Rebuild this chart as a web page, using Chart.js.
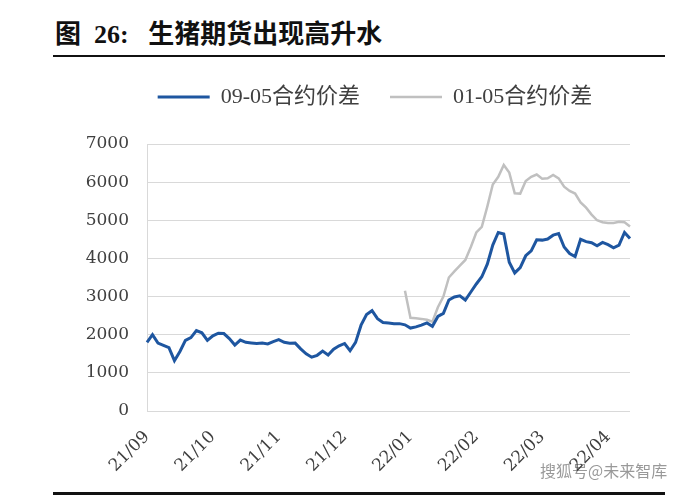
<!DOCTYPE html>
<html>
<head>
<meta charset="utf-8">
<script src="https://cdn.jsdelivr.net/npm/chart.js@4.4.1/dist/chart.umd.min.js"></script>
<style>
  html, body { margin: 0; padding: 0; background: #fff; }
  #wrap { position: relative; width: 679px; height: 500px; overflow: hidden; }
  #title { position: absolute; left: 55px; top: 22px; font: bold 26px/26px 'Liberation Serif', 'Noto Sans CJK SC', serif; color: #111; white-space: pre; }
  #rule-top { position: absolute; left: 53px; top: 55px; width: 612px; height: 2px; background: #111; }
  #rule-bottom { position: absolute; left: 53px; top: 492px; width: 612px; height: 3px; background: #111; }
  #mark { position: absolute; left: 540px; top: 458px; font: 16px 'Noto Sans CJK SC', sans-serif; color: rgba(70,70,70,0.55); white-space: nowrap; }
  canvas { position: absolute; left: 0; top: 0; }
</style>
</head>
<body>
<div id="wrap">
  <div id="title">图  26:   生猪期货出现高升水</div>
  <div id="rule-top"></div>
  <canvas id="spread-chart" width="679" height="500"></canvas>
  <div id="mark">搜狐号@未来智库</div>
  <div id="rule-bottom"></div>
</div>
<script>
'use strict';

// month tick labels, one every 12 points
const monthLabels = ['21/09', '21/10', '21/11', '21/12', '22/01', '22/02', '22/03', '22/04'];
const pointsPerMonth = 12;

// 09-05 contract spread
const spread0905 = [
  1800, 2000, 1780, 1720, 1660, 1320, 1560, 1850, 1925, 2110,
  2050, 1850, 1970, 2040, 2030, 1900, 1730, 1860, 1800, 1785,
  1770, 1780, 1760, 1820, 1870, 1800, 1775, 1780, 1630, 1500,
  1410, 1460, 1570, 1470, 1620, 1710, 1770, 1580, 1800, 2250,
  2530, 2630, 2420, 2320, 2305, 2290, 2290, 2260, 2175, 2205,
  2250, 2310, 2220, 2480, 2560, 2910, 2990, 3020, 2910, 3120,
  3330, 3520, 3850, 4350, 4680, 4640, 3900, 3620, 3760, 4070,
  4200, 4490, 4480, 4510, 4610, 4650, 4300, 4130, 4050, 4500,
  4440, 4410, 4330, 4420, 4360, 4280, 4350, 4680, 4520
];

// 01-05 contract spread (starts in January)
const spread0105 = [
  null, null, null, null, null, null, null, null, null, null,
  null, null, null, null, null, null, null, null, null, null,
  null, null, null, null, null, null, null, null, null, null,
  null, null, null, null, null, null, null, null, null, null,
  null, null, null, null, null, null, null, 3150, 2445, 2430,
  2415, 2390, 2340, 2720, 3000, 3500, 3660, 3810, 3960, 4300,
  4680, 4830, 5360, 5940, 6140, 6450, 6250, 5710, 5700, 6030,
  6140, 6200, 6090, 6100, 6190, 6100, 5880, 5770, 5700, 5470,
  5330, 5150, 5000, 4950, 4930, 4930, 4960, 4950, 4840
];

const textColor = '#404040';
const gridColor = '#d9d9d9';

// extra room under the legend, and legend centred over the plot rather than the canvas
const legendTweak = {
  id: 'legendTweak',
  beforeInit(chart) {
    const fit = chart.legend.fit;
    chart.legend.fit = function () {
      fit.call(this);
      this.height += 26;
    };
  },
  afterLayout(chart) {
    chart.legend.left += 120;
  }
};

function buildChart() {
  const ctx = document.getElementById('spread-chart');
  const labels = spread0905.map((_, i) => i);

  new Chart(ctx, {
    type: 'line',
    data: {
      labels,
      datasets: [
        { label: '09-05合约价差', data: spread0905, borderColor: '#1E56A0', backgroundColor: '#1E56A0', borderWidth: 3, pointRadius: 0, tension: 0 },
        { label: '01-05合约价差', data: spread0105, borderColor: '#C0C0C0', backgroundColor: '#C0C0C0', borderWidth: 2.5, pointRadius: 0, tension: 0 }
      ]
    },
    plugins: [legendTweak],
    options: {
      responsive: false,
      animation: false,
      layout: { padding: { top: 56, left: 0, right: 49, bottom: 0 } },
      plugins: {
        legend: {
          position: 'top',
          labels: {
            usePointStyle: true,
            pointStyle: 'line',
            pointStyleWidth: 52,
            boxHeight: 3,
            padding: 30,
            color: textColor,
            font: { family: "'Liberation Serif', 'Noto Sans CJK SC'", size: 22 }
          }
        },
        tooltip: { enabled: false }
      },
      scales: {
        x: {
          grid: { display: false },
          border: { display: false },
          ticks: {
            autoSkip: false,
            minRotation: 45,
            maxRotation: 45,
            padding: 8,
            color: textColor,
            font: { family: "'DejaVu Serif'", size: 17 },
            callback: (val, i) => (i % pointsPerMonth === 0 ? monthLabels[i / pointsPerMonth] : '')
          },
          afterFit: (scale) => { scale.height = 89; }
        },
        y: {
          min: 0,
          max: 7000,
          grid: { color: gridColor, drawTicks: false },
          border: { display: true, color: gridColor },
          ticks: {
            stepSize: 1000,
            padding: 18,
            color: textColor,
            font: { family: "'DejaVu Serif'", size: 17 },
            callback: (v) => String(v)
          },
          afterFit: (scale) => { scale.width = 147; }
        }
      }
    }
  });
}

buildChart();
</script>
</body>
</html>
